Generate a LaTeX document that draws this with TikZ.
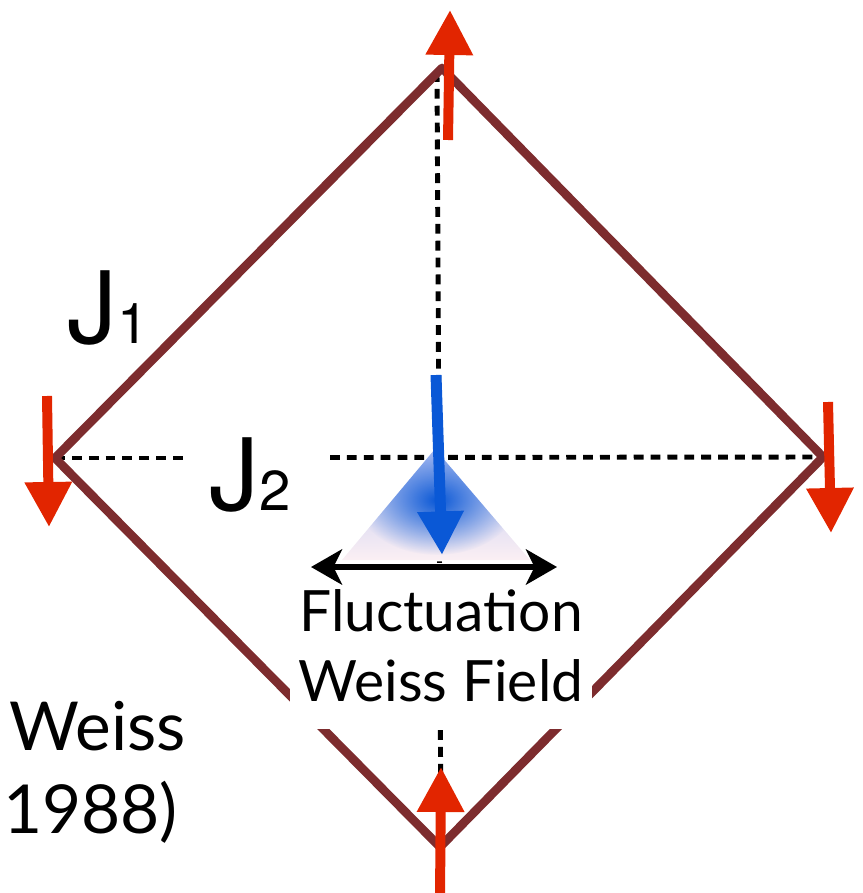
\documentclass[tikz,border=0pt]{standalone}
\usepackage{fontspec}
\setmainfont{Lato}
\newfontfamily\heros{TeX Gyre Heros}
\usepackage{tikz}
\usetikzlibrary{arrows.meta,fadings,positioning}
\definecolor{bondbrown}{HTML}{7D2C2E}
\definecolor{spinred}{HTML}{E22500}
\definecolor{fieldblue}{HTML}{0A58D6}
\definecolor{glowtop}{HTML}{B4C2F4}
\definecolor{glowbase}{HTML}{FBEFF3}
\tikzfading[name=glowfade, inner color=transparent!0, outer color=transparent!100]
\newcommand{\coupling}[1]{{\heros\fontsize{71}{71}\selectfont J}{\heros\fontsize{40}{40}\selectfont #1}}
\tikzset{
    bond/.style={
        line width=6.2pt,
        color=bondbrown,
        line join=round
    },
    exchange/.style={
        line width=3.5pt,
        dash pattern=on 7pt off 5pt
    },
    spin/.style={
        -{Triangle[length=32pt,width=32pt]},
        line width=7.1pt,
        color=spinred
    },
    meanfield/.style={
        -{Triangle[length=31pt,width=31pt]},
        line width=7.8pt,
        color=fieldblue
    },
    fluctuation/.style={
        {Stealth[length=22pt,width=25pt,inset=6pt]}-{Stealth[length=22pt,width=25pt,inset=6pt]},
        line width=4.5pt
    },
    couplinglabel/.style={
        anchor=base west,
        inner sep=0pt
    },
    caption/.style={
        font=\fontsize{40.5}{49.8}\selectfont,
        align=center,
        fill=white,
        inner xsep=6pt,
        inner ysep=19pt
    },
    citation/.style={
        font=\fontsize{48}{48}\selectfont,
        anchor=base west,
        inner sep=0pt
    }
}
\begin{document}
\begin{tikzpicture}[x=0.025cm,y=-0.025cm]

    \useasboundingbox (0,0) rectangle (862,893);

    % Sommets
    \coordinate (top) at (442,68);
    \coordinate (left) at (55,458);
    \coordinate (right) at (823,457);
    \coordinate (bottom) at (440,847);
    \coordinate (axistop) at (437,72);
    \coordinate (axisbottom) at (441,847);
    \coordinate (gapl) at (186,458);
    \coordinate (gapr) at (330,457.5);

    % Couplage J2
    \draw[exchange]
        (left) -- (gapl);
    \draw[exchange]
        (gapr) -- (right);
    \draw[exchange]
        (axistop) -- (axisbottom);

    % Losange
    \draw[bond]
        (top) -- (right) -- (bottom) -- (left) -- cycle;

    % Texte
    \node[caption] (weissfield) at (441,646)
        {Fluctuation\\Weiss Field};

    % Triangle
    \coordinate (glowtip) at (435,449);
    \coordinate (glowleft) at (342,560);
    \coordinate (glowright) at (530,560);
    \shade[top color=glowtop,bottom color=glowbase]
        (glowtip) -- (glowright) -- (glowleft) -- cycle;
    \begin{scope}
        \clip (glowtip) -- (glowright) -- (glowleft) -- cycle;
        \fill[fieldblue,path fading=glowfade]
            (437,500) ellipse (80 and 55);
    \end{scope}

    % Fleche double
    \coordinate (fluctl) at (311,567);
    \coordinate (fluctr) at (557,567);
    \draw[fluctuation]
        (fluctl) -- (fluctr);

    % Champ moyen
    \draw[meanfield]
        (436,375) -- (442,555);

    % Spins
    \draw[spin] (448,140) -- (450,10);
    \draw[spin] (47,396) -- (49,527);
    \draw[spin] (828,402) -- (831,533);
    \draw[spin] (440,900) -- (441,767);

    % J1, J2
    \node[couplinglabel] (jone) at (67,343) {\coupling{1}};
    \node[couplinglabel] (jtwo) at (209,510) {\coupling{2}};

    % Reference
    \node[citation] (weiss) at (9,750) {Weiss};
    \node[citation] (year) at (3,833) {1988)};

\end{tikzpicture}
\end{document}
